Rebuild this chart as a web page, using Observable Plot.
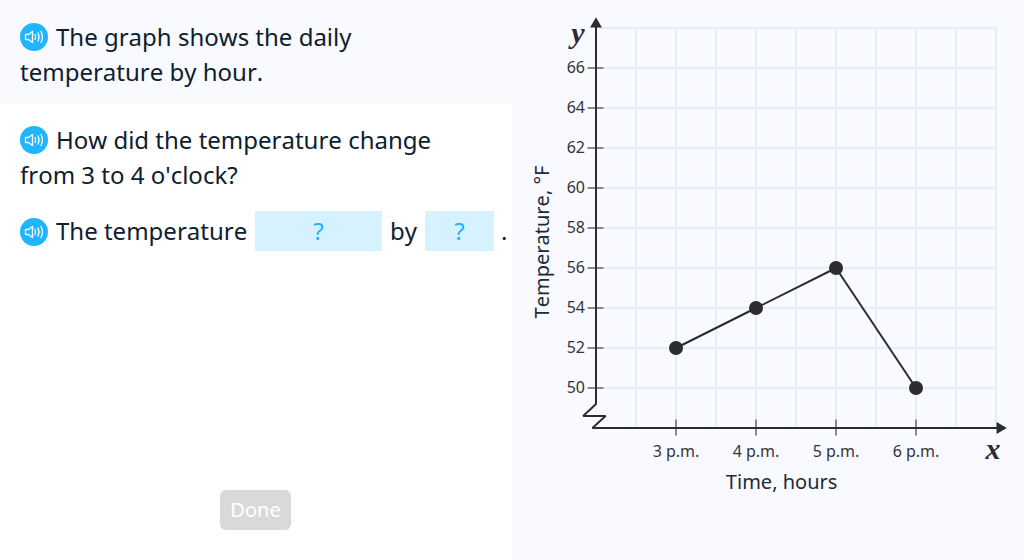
<!DOCTYPE html>
<html>
<head>
<meta charset="utf-8">
<script src="https://cdn.jsdelivr.net/npm/d3@7"></script>
<script src="https://cdn.jsdelivr.net/npm/@observablehq/plot@0.6"></script>
<style>
  html, body { margin: 0; padding: 0; width: 1024px; height: 560px; overflow: hidden; background: #f9faff; font-family: "Noto Sans", sans-serif; color: #0d2030; font-kerning: none; }
  #panel { position: absolute; left: 0; top: 103px; width: 512px; height: 457px; background: #fff; }
  .line { position: absolute; left: 20px; font-size: 24px; line-height: 35px; white-space: nowrap; }
  .icon { position: absolute; left: 20px; width: 28px; height: 28px; }
  .blank { position: absolute; top: 211px; height: 40px; background: #d6f1ff; color: #1fb6ff; font-size: 24px; line-height: 40px; text-align: center; }
  #done { position: absolute; left: 220px; top: 490px; width: 71px; height: 40px; background: #d9d9d9; color: #fff; border-radius: 6px; font-size: 20px; line-height: 40px; text-align: center; }
  #chart { position: absolute; left: 512px; top: 0; }
  #chart svg { background: transparent; display: block; font-kerning: none; }
</style>
</head>
<body>
<div id="panel"></div>
<div class="line" style="left:56px;top:19px">The graph shows the daily</div>
<div class="line" style="top:54px">temperature by hour.</div>
<div class="line" style="left:56px;top:122px">How did the temperature change</div>
<div class="line" style="top:157px">from 3 to 4 o'clock?</div>
<div class="line" style="left:56px;top:213px">The temperature</div>
<div class="blank" style="left:255px;width:127px">?</div>
<div class="line" style="left:390px;top:213px">by</div>
<div class="blank" style="left:425px;width:69px">?</div>
<div class="line" style="left:501px;top:213px">.</div>
<div id="done">Done</div>
<div id="chart"></div>
<script>
const hours = [15, 16, 17, 18];
const hourLabels = ["3 p.m.", "4 p.m.", "5 p.m.", "6 p.m."];
const temperatures = [52, 54, 56, 50];
const yTicks = [50, 52, 54, 56, 58, 60, 62, 64, 66];
const xGrid = [14.5, 15, 15.5, 16, 16.5, 17, 17.5, 18, 18.5, 19];
const yGrid = [50, 52, 54, 56, 58, 60, 62, 64, 66, 68];
const xMin = 14, xMax = 19, yMin = 48, yMax = 68;
// axis break zigzag, in data units
const breakX = [14, 14, 13.84, 14.12, 13.955, 14];
const breakY = [50, 49.2, 48.6, 48.6, 48, 48];

const axisColor = "#2b2b30", tickColor = "#8a8a8e", gridColor = "#e6edff", labelColor = "#333338";

const points = hours.map((h, i) => ({h, t: temperatures[i]}));
const breakPts = breakX.map((x, i) => ({x, y: breakY[i]}));

const chart = Plot.plot({
  width: 512, height: 560,
  marginLeft: 83.5, marginRight: 28.5, marginTop: 27.5, marginBottom: 132.5,
  style: {background: "transparent", fontFamily: "'Noto Sans', sans-serif"},
  x: {domain: [xMin, xMax], axis: null},
  y: {domain: [yMin, yMax], axis: null},
  marks: [
    Plot.ruleX(xGrid, {x: d => d, y1: yMin, y2: yMax, stroke: gridColor, strokeWidth: 2}),
    Plot.ruleY(yGrid, {y: d => d, x1: xMin, x2: xMax, stroke: gridColor, strokeWidth: 2}),
    Plot.ruleY(yTicks, {y: d => d, x1: xMin - 0.1, x2: xMin + 0.1, stroke: tickColor, strokeWidth: 2}),
    Plot.ruleX(hours, {x: d => d, y1: yMin - 0.4, y2: yMin + 0.4, stroke: tickColor, strokeWidth: 2}),
    Plot.ruleX([xMin], {y1: 50, y2: yMax + 0.1, stroke: axisColor, strokeWidth: 2}),
    Plot.ruleY([yMin], {x1: xMin, x2: xMax + 0.02, stroke: axisColor, strokeWidth: 2}),
    Plot.line(breakPts, {x: "x", y: "y", stroke: axisColor, strokeWidth: 2, strokeLinejoin: "miter", curve: "linear"}),
    Plot.dot([{x: xMin, y: yMax + 0.2}], {x: "x", y: "y", symbol: "triangle", r: 4.4, fill: axisColor, stroke: "none"}),
    Plot.dot([{x: xMax + 0.05, y: yMin}], {x: "x", y: "y", symbol: "triangle", r: 4.4, rotate: 90, fill: axisColor, stroke: "none"}),
    Plot.axisY(yTicks, {tickSize: 0, tickPadding: 11, label: null, anchor: "left", fontSize: 16, fill: labelColor}),
    Plot.axisX(hours, {tickSize: 0, tickPadding: 18, label: null, anchor: "bottom", fontSize: 16, tickFormat: d => hourLabels[hours.indexOf(d)], fill: labelColor}),
    Plot.text(["Time, hours"], {x: () => 16.32, y: () => yMin, dy: 55, fontSize: 20, fill: "#1c2b36"}),
    Plot.text(["Temperature, °F"], {x: () => xMin, y: () => 57.3, dx: -53, rotate: -90, fontSize: 20, fill: "#1c2b36"}),
    Plot.text(["y"], {x: () => xMin, y: () => yMax, dx: -18, dy: 5, fontSize: 30, fontFamily: "Liberation Serif", fontStyle: "italic", fontWeight: "bold", fill: axisColor}),
    Plot.text(["x"], {x: () => xMax, y: () => yMin, dx: -3, dy: 21, fontSize: 30, fontFamily: "Liberation Serif", fontStyle: "italic", fontWeight: "bold", fill: axisColor}),
    Plot.line(points, {x: "h", y: "t", stroke: axisColor, strokeWidth: 2}),
    Plot.dot(points, {x: "h", y: "t", r: 7, fill: axisColor, stroke: "none"})
  ]
});
document.getElementById("chart").appendChild(chart);

// speaker icons
[37, 140, 232].forEach(top => {
  const s = document.createElementNS("http://www.w3.org/2000/svg", "svg");
  s.setAttribute("class", "icon");
  s.style.top = (top - 14) + "px";
  s.setAttribute("viewBox", "0 0 28 28");
  s.innerHTML = '<circle cx="14" cy="14" r="14" fill="#1fb6ff"/>' +
    '<path d="M5.5 11.5h3l4-3v11l-4-3h-3z" fill="none" stroke="#fff" stroke-width="1.3" stroke-linejoin="round"/>' +
    '<path d="M15 11.5q1.3 2.5 0 5M18 10q2 4 0 8M21 8.5q2.8 5.5 0 11" fill="none" stroke="#fff" stroke-width="1.3" stroke-linecap="round"/>';
  document.body.appendChild(s);
});
</script>
</body>
</html>
